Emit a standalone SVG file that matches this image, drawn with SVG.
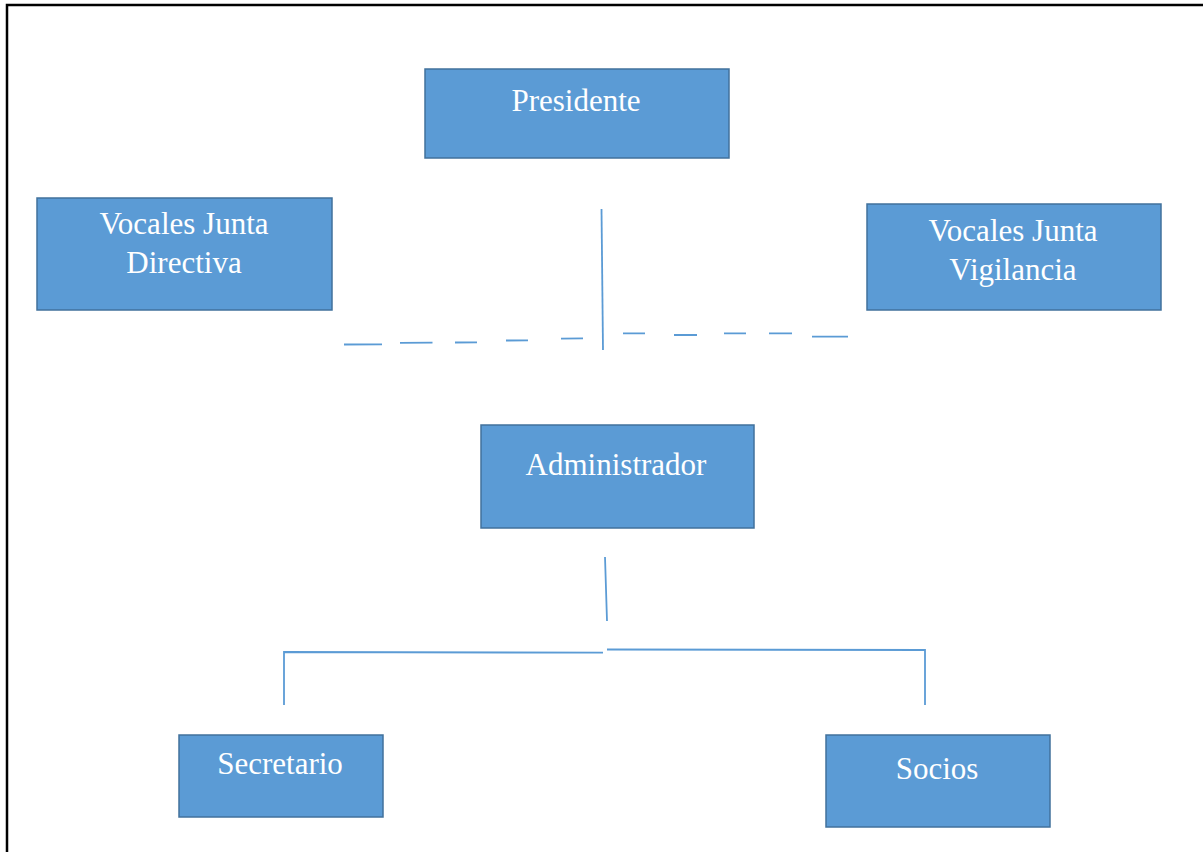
<svg xmlns="http://www.w3.org/2000/svg" width="1203" height="852" viewBox="0 0 1203 852">
<style>
.box{fill:#5B9BD5;stroke:#41719C;stroke-width:1.5}
.lbl{font-family:"Liberation Serif","Times New Roman",serif;font-size:31px;fill:#FFFFFF;text-anchor:middle}
.ln{stroke:#5B9BD5;stroke-width:1.8;fill:none}
.frame{stroke:#000;stroke-width:2.5;fill:none}
</style>
<rect width="1203" height="852" fill="#FFFFFF"/>
<path class="frame" d="M7,852 V5 H1203"/>
<g id="connectors">
<line class="ln" x1="601.5" y1="209" x2="603" y2="350"/>
<path class="ln" d="M344,344.5 L382,344.3 M400,342.8 L432.5,342.7 M455,342.5 L477,342.4 M506,340.5 L528,340.4 M561,338.6 L583,338.4"/>
<path class="ln" d="M623,333.3 L645,333.3 M674,335 L697,335 M724,333.3 L746,333.3 M769,333.3 L792,333.3 M812,336.7 L848,336.7"/>
<line class="ln" x1="605" y1="557" x2="607" y2="621"/>
<path class="ln" d="M284,705 V652 L603,652.7"/>
<path class="ln" d="M607,649.5 L925,650 V705"/>
</g>
<g id="presidente">
<rect class="box" x="425" y="69" width="304" height="89"/>
<text class="lbl" x="576" y="111">Presidente</text>
</g>
<g id="vocales-directiva">
<rect class="box" x="37" y="198" width="295" height="112"/>
<text class="lbl" x="184" y="234">Vocales Junta</text>
<text class="lbl" x="184" y="273">Directiva</text>
</g>
<g id="vocales-vigilancia">
<rect class="box" x="867" y="204" width="294" height="106"/>
<text class="lbl" x="1013" y="241">Vocales Junta</text>
<text class="lbl" x="1013" y="280">Vigilancia</text>
</g>
<g id="administrador">
<rect class="box" x="481" y="425" width="273" height="103"/>
<text class="lbl" x="616" y="475">Administrador</text>
</g>
<g id="secretario">
<rect class="box" x="179" y="735" width="204" height="82"/>
<text class="lbl" x="280" y="774">Secretario</text>
</g>
<g id="socios">
<rect class="box" x="826" y="735" width="224" height="92"/>
<text class="lbl" x="937" y="779">Socios</text>
</g>
</svg>
